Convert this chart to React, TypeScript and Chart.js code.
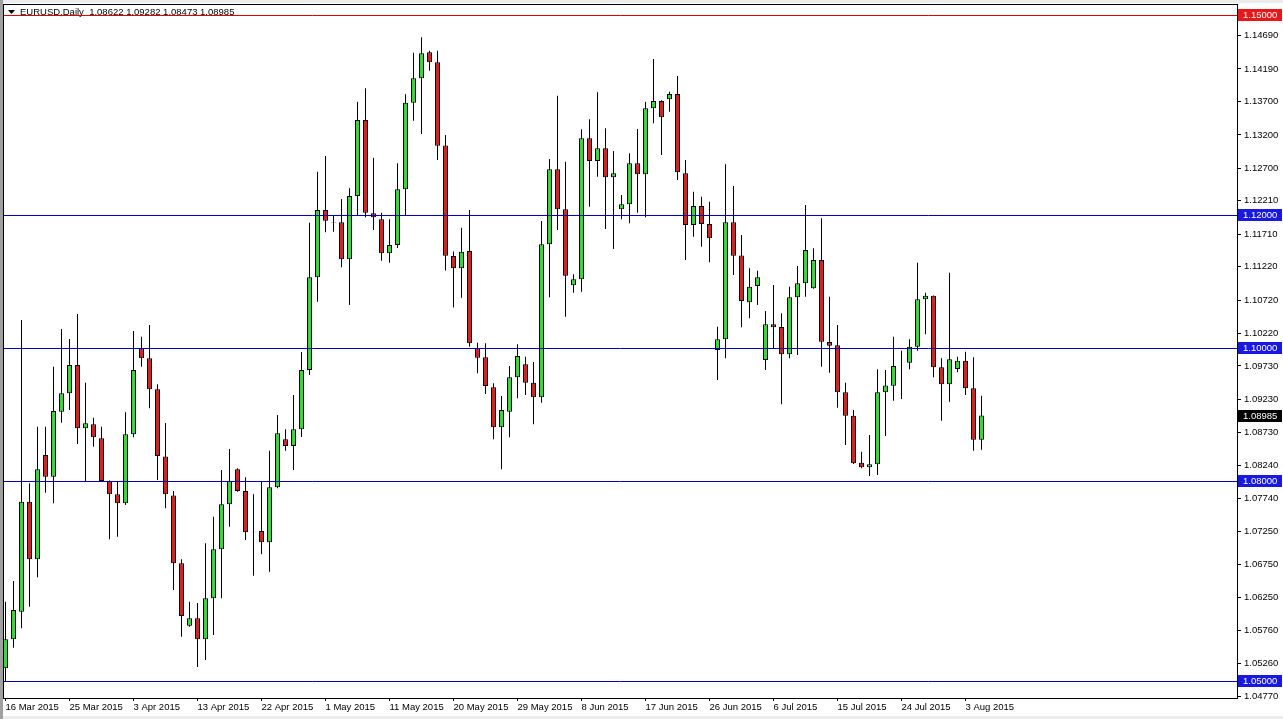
import React, { useEffect, useRef } from 'react';
import { Chart, registerables } from 'chart.js';

Chart.register(...registerables);

const symbolTitle = 'EURUSD,Daily';
const barsPerDateTick = 8;
const dateTicks = [
  '16 Mar 2015', '25 Mar 2015', '3 Apr 2015', '13 Apr 2015', '22 Apr 2015', '1 May 2015',
  '11 May 2015', '20 May 2015', '29 May 2015', '8 Jun 2015', '17 Jun 2015', '26 Jun 2015',
  '6 Jul 2015', '15 Jul 2015', '24 Jul 2015', '3 Aug 2015',
];

const opens = [
  1.05191, 1.05626, 1.06040, 1.07692, 1.06827, 1.08393, 1.08067, 1.09043, 1.09320, 1.09745,
  1.08794, 1.08854, 1.08644, 1.08003, 1.07803, 1.07668, 1.08704, 1.09995, 1.09845, 1.09380,
  1.08370, 1.07785, 1.06767, 1.05830, 1.05941, 1.05626, 1.06241, 1.06977, 1.07653, 1.08178,
  1.07853, 1.07240, 1.07252, 1.07082, 1.07908, 1.08629, 1.08528, 1.08779, 1.09669, 1.11061,
  1.12072, 1.11890, 1.11887, 1.11332, 1.12282, 1.13423, 1.12022, 1.11932, 1.11422, 1.11546,
  1.12383, 1.13683, 1.14049, 1.14440, 1.14290, 1.13040, 1.11381, 1.11197, 1.11456, 1.09995,
  1.09860, 1.09410, 1.08809, 1.09043, 1.09560, 1.09755, 1.09479, 1.09260, 1.11557, 1.12683,
  1.12082, 1.10941, 1.11031, 1.13148, 1.12808, 1.12998, 1.12563, 1.12082, 1.12157, 1.12773,
  1.12608, 1.13599, 1.13708, 1.13734, 1.13814, 1.12623, 1.11847, 1.12132, 1.11862, 1.09970,
  1.10130, 1.11887, 1.11389, 1.10686, 1.10931, 1.09820, 1.10355, 1.10315, 1.09905, 1.10761,
  1.10971, 1.10896, 1.11321, 1.10090, 1.10040, 1.09335, 1.08983, 1.08278, 1.08208, 1.08254,
  1.09335, 1.09434, 1.09736, 1.09779, 1.10019, 1.10731, 1.10785, 1.09710, 1.09455, 1.09684,
  1.09809, 1.09395, 1.08622,
];

const highs = [
  1.06190, 1.06501, 1.10420, 1.07968, 1.08818, 1.08818, 1.09719, 1.10285, 1.10135, 1.10510,
  1.09479, 1.08953, 1.08818, 1.08010, 1.07992, 1.09034, 1.10255, 1.10169, 1.10345, 1.09455,
  1.08874, 1.07853, 1.06827, 1.06190, 1.06171, 1.07067, 1.07467, 1.08168, 1.08483, 1.08193,
  1.08058, 1.07803, 1.08003, 1.08458, 1.08994, 1.08779, 1.09294, 1.09940, 1.11881, 1.12647,
  1.12883, 1.11997, 1.12237, 1.12398, 1.13698, 1.13899, 1.12857, 1.12031, 1.11932, 1.12773,
  1.13809, 1.14434, 1.14665, 1.14464, 1.14464, 1.13198, 1.11449, 1.11806, 1.12072, 1.10079,
  1.10070, 1.09470, 1.09279, 1.09730, 1.10055, 1.09869, 1.09790, 1.11907, 1.12838, 1.13788,
  1.12797, 1.11106, 1.13284, 1.13435, 1.13839, 1.13299, 1.12958, 1.12297, 1.12923, 1.13288,
  1.13698, 1.14339, 1.13720, 1.13848, 1.14084, 1.12823, 1.12347, 1.12272, 1.12197, 1.10320,
  1.12758, 1.12432, 1.11697, 1.11197, 1.11160, 1.10555, 1.10946, 1.10521, 1.10920, 1.11231,
  1.12147, 1.11497, 1.11947, 1.10770, 1.10345, 1.09479, 1.09069, 1.08443, 1.08693, 1.09680,
  1.09669, 1.10169, 1.09959, 1.10130, 1.11281, 1.10830, 1.10790, 1.09845, 1.11131, 1.09869,
  1.09944, 1.09860, 1.09282,
];

const lows = [
  1.04989, 1.05500, 1.05791, 1.06115, 1.06557, 1.07827, 1.07668, 1.08878, 1.09069, 1.08558,
  1.07992, 1.08518, 1.07992, 1.07127, 1.07166, 1.07642, 1.08659, 1.09719, 1.09094, 1.08018,
  1.07593, 1.06366, 1.05665, 1.05815, 1.05210, 1.05315, 1.05690, 1.06241, 1.07317, 1.07842,
  1.07117, 1.06581, 1.06902, 1.06641, 1.07893, 1.08458, 1.08168, 1.08664, 1.09594, 1.10695,
  1.11737, 1.11746, 1.11212, 1.10645, 1.11997, 1.11962, 1.11772, 1.11311, 1.11281, 1.11501,
  1.11997, 1.13413, 1.13213, 1.14163, 1.12823, 1.11163, 1.10608, 1.10755, 1.10019, 1.09620,
  1.09309, 1.08629, 1.08178, 1.08659, 1.09245, 1.09294, 1.08854, 1.09179, 1.10761, 1.11772,
  1.10470, 1.10830, 1.10845, 1.12121, 1.12572, 1.11787, 1.11486, 1.11932, 1.11872, 1.12031,
  1.11962, 1.13374, 1.12898, 1.13548, 1.12522, 1.11321, 1.11671, 1.11521, 1.11287, 1.09519,
  1.09845, 1.11096, 1.10311, 1.10446, 1.10645, 1.09669, 1.09995, 1.09155, 1.09845, 1.09895,
  1.10770, 1.10890, 1.09719, 1.09629, 1.09103, 1.08543, 1.08260, 1.08193, 1.08078, 1.08093,
  1.08679, 1.09209, 1.09234, 1.09680, 1.09959, 1.10206, 1.09560, 1.08908, 1.09194, 1.09635,
  1.09294, 1.08458, 1.08473,
];

const closes = [
  1.05626, 1.06066, 1.07692, 1.06827, 1.08178, 1.08067, 1.09054, 1.09320, 1.09745, 1.08794,
  1.08869, 1.08659, 1.08003, 1.07803, 1.07668, 1.08704, 1.09669, 1.09845, 1.09380, 1.08378,
  1.07803, 1.06767, 1.05976, 1.05941, 1.05626, 1.06241, 1.06977, 1.07653, 1.08007, 1.07853,
  1.07233, 1.07234, 1.07082, 1.07908, 1.08719, 1.08528, 1.08779, 1.09669, 1.11061, 1.12072,
  1.11911, 1.11884, 1.11332, 1.12282, 1.13423, 1.12031, 1.11962, 1.11422, 1.11546, 1.12383,
  1.13683, 1.14049, 1.14425, 1.14290, 1.13037, 1.11386, 1.11197, 1.11446, 1.10070, 1.09854,
  1.09429, 1.08809, 1.09069, 1.09560, 1.09880, 1.09479, 1.09260, 1.11557, 1.12683, 1.12082,
  1.11085, 1.11031, 1.13148, 1.12808, 1.12998, 1.12563, 1.12623, 1.12157, 1.12773, 1.12608,
  1.13599, 1.13708, 1.13464, 1.13814, 1.12638, 1.11847, 1.12132, 1.11862, 1.11647, 1.10130,
  1.11887, 1.11386, 1.10706, 1.10920, 1.11061, 1.10355, 1.10311, 1.09905, 1.10761, 1.10971,
  1.11471, 1.11321, 1.10094, 1.10034, 1.09335, 1.08983, 1.08268, 1.08208, 1.08254, 1.09335,
  1.09437, 1.09730, 1.09732, 1.10019, 1.10731, 1.10785, 1.09710, 1.09455, 1.09830, 1.09809,
  1.09395, 1.08622, 1.08985,
];

const priceTicks = [
  1.14690, 1.14190, 1.13700, 1.13200, 1.12700, 1.12210, 1.11710, 1.11220, 1.10720, 1.10220,
  1.09730, 1.09230, 1.08730, 1.08240, 1.07740, 1.07250, 1.06750, 1.06250, 1.05760, 1.05260,
  1.04770,
];

const levelPrices = [1.15, 1.12, 1.10, 1.08, 1.05];
const levelLineColors = ['#E00000', '#0000C0', '#0000C0', '#0000C0', '#0000C0'];
const levelTagColors = ['#E81818', '#1818E0', '#1818E0', '#1818E0', '#1818E0'];

const yMin = 1.04745;
const yMax = 1.1515;
const xMin = -0.1875;
const xMax = 153.9375;

const FONT_FAMILY = '"Liberation Sans", Arial, sans-serif';
const FONT_SIZE = 9.5;
const BULL = '#32DC32';
const BEAR = '#E01E1E';

export default function App() {
  const canvasRef = useRef<HTMLCanvasElement>(null);

  useEffect(() => {
    const canvas = canvasRef.current;
    if (!canvas) return;

    const idx = opens.map((_, i) => i);
    const bodyData = idx.map((i) => ({ x: i, y: [opens[i], closes[i]] }));
    const wickData = idx.map((i) => ({ x: i, y: [lows[i], highs[i]] }));
    const bodyColors = idx.map((i) => (closes[i] >= opens[i] ? BULL : BEAR));
    const last = closes.length - 1;

    const mt4Plugin = {
      id: 'mt4Frame',
      beforeDraw(chart: any) {
        const { ctx, width, height } = chart;
        ctx.save();
        ctx.fillStyle = '#FFFFFF';
        ctx.fillRect(0, 0, width, height);
        ctx.fillStyle = '#A0A0A0';
        ctx.fillRect(0, 0, 3, height);
        ctx.fillStyle = '#ECECEC';
        ctx.fillRect(3, 0, width - 3, 3);
        ctx.fillRect(3, height - 3, width - 3, 3);
        ctx.restore();
      },
      beforeDatasetsDraw(chart: any) {
        const { ctx } = chart;
        ctx.save();
        ctx.fillStyle = '#000';
        ctx.beginPath();
        ctx.moveTo(8, 10);
        ctx.lineTo(15, 10);
        ctx.lineTo(11.5, 14);
        ctx.closePath();
        ctx.fill();
        ctx.font = `${FONT_SIZE}px ${FONT_FAMILY}`;
        ctx.textBaseline = 'middle';
        ctx.textAlign = 'left';
        const txt = `${symbolTitle}  ${opens[last].toFixed(5)} ${highs[last].toFixed(5)} ${lows[last].toFixed(5)} ${closes[last].toFixed(5)}`;
        ctx.fillText(txt, 20, 12.5);
        ctx.restore();
      },
      afterDatasetsDraw(chart: any) {
        const { ctx, chartArea } = chart;
        const yScale = chart.scales.y;
        ctx.save();
        ctx.lineWidth = 1;
        levelPrices.forEach((p, k) => {
          const y = Math.round(yScale.getPixelForValue(p)) + 0.5;
          ctx.strokeStyle = levelLineColors[k];
          ctx.beginPath();
          ctx.moveTo(chartArea.left, y);
          ctx.lineTo(chartArea.right, y);
          ctx.stroke();
        });
        ctx.strokeStyle = '#000';
        ctx.strokeRect(chartArea.left - 0.5, chartArea.top - 0.5, chartArea.right - chartArea.left + 1, chartArea.bottom - chartArea.top + 1);
        ctx.restore();
      },
      afterDraw(chart: any) {
        const { ctx, chartArea } = chart;
        const yScale = chart.scales.y;
        ctx.save();
        ctx.font = `${FONT_SIZE}px ${FONT_FAMILY}`;
        ctx.textBaseline = 'middle';
        ctx.textAlign = 'left';
        const tag = (p: number, color: string) => {
          const y = Math.round(yScale.getPixelForValue(p));
          ctx.fillStyle = color;
          ctx.fillRect(chartArea.right + 1, y - 6, 44, 12);
          ctx.fillStyle = '#FFFFFF';
          ctx.fillText(p.toFixed(5), chartArea.right + 6, y + 0.5);
        };
        levelPrices.forEach((p, k) => tag(p, levelTagColors[k]));
        tag(closes[last], '#000000');
        ctx.restore();
      },
    };

    const chart = new Chart(canvas, {
      type: 'bar',
      data: {
        datasets: [
          {
            label: 'body',
            data: bodyData as any,
            backgroundColor: bodyColors,
            borderColor: '#000000',
            borderWidth: 1,
            borderSkipped: false,
            barThickness: 5,
            grouped: false,
            inflateAmount: 0,
            order: 0,
          } as any,
          {
            label: 'wick',
            data: wickData as any,
            backgroundColor: '#000000',
            borderWidth: 0,
            barThickness: 1,
            grouped: false,
            inflateAmount: 0,
            order: 1,
          } as any,
        ],
      },
      options: {
        animation: false,
        responsive: false,
        devicePixelRatio: 1,
        events: [],
        layout: { padding: { left: 4, top: 5, right: 0, bottom: 0 } },
        plugins: { legend: { display: false }, tooltip: { enabled: false } },
        scales: {
          x: {
            type: 'linear',
            min: xMin,
            max: xMax,
            offset: false,
            grid: { offset: false, drawOnChartArea: false, drawTicks: true, tickLength: 3, color: '#000' },
            border: { display: false },
            afterBuildTicks: (scale: any) => {
              scale.ticks = dateTicks.map((_, k) => ({ value: k * barsPerDateTick }));
            },
            afterFit: (scale: any) => {
              scale.height = 21;
              scale.paddingLeft = 0;
              scale.paddingRight = 0;
            },
            ticks: {
              autoSkip: false,
              maxRotation: 0,
              minRotation: 0,
              align: 'start',
              padding: 1,
              color: '#000',
              font: { family: FONT_FAMILY, size: FONT_SIZE },
              callback: (v: any) => dateTicks[Math.round(Number(v) / barsPerDateTick)] ?? '',
            },
          } as any,
          y: {
            type: 'linear',
            position: 'right',
            min: yMin,
            max: yMax,
            beginAtZero: false,
            grid: { drawOnChartArea: false, drawTicks: true, tickLength: 4, color: '#000' },
            border: { display: false },
            afterBuildTicks: (scale: any) => {
              scale.ticks = priceTicks.map((v) => ({ value: v }));
            },
            afterFit: (scale: any) => {
              scale.width = 46;
              scale.paddingTop = 0;
              scale.paddingBottom = 0;
            },
            ticks: {
              autoSkip: false,
              padding: 3,
              color: '#000',
              font: { family: FONT_FAMILY, size: FONT_SIZE },
              callback: (v: any) => Number(v).toFixed(5),
            },
          } as any,
        },
      },
      plugins: [mt4Plugin as any],
    });

    return () => {
      chart.destroy();
    };
  }, []);

  return (
    <div style={{ position: 'fixed', left: 0, top: 0, width: 1283, height: 719, background: '#fff' }}>
      <canvas ref={canvasRef} width={1283} height={719} style={{ display: 'block', width: 1283, height: 719 }} />
    </div>
  );
}
